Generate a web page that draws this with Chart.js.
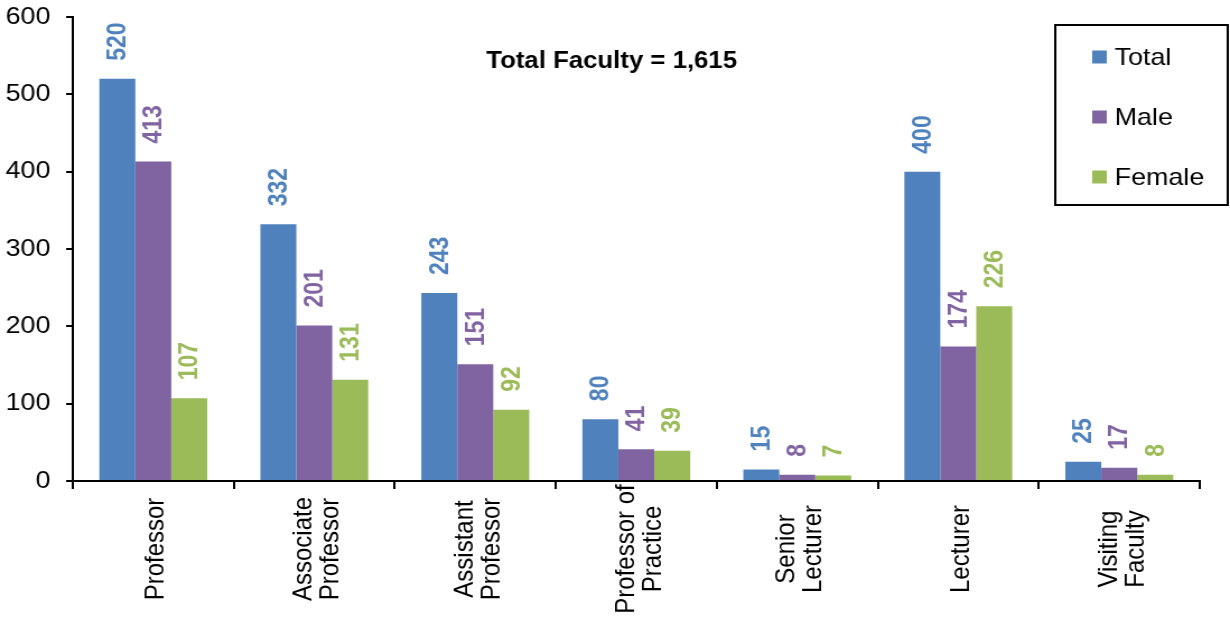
<!DOCTYPE html>
<html>
<head>
<meta charset="utf-8">
<title>Faculty by rank</title>
<script src="https://cdn.jsdelivr.net/npm/chart.js@4.4.1/dist/chart.umd.min.js"></script>
<style>
  html, body { margin: 0; padding: 0; background: #ffffff; }
</style>
</head>
<body>
<!-- the reference is stretched ~1.12x horizontally, so the canvas is drawn narrower and scaled up -->
<canvas id="facultyChart" width="1098" height="625" style="display:block;width:1230px;height:625px"></canvas>
<script>
const categories = [
  ["Professor"],
  ["Associate", "Professor"],
  ["Assistant", "Professor"],
  ["Professor of", "Practice"],
  ["Senior", "Lecturer"],
  ["Lecturer"],
  ["Visiting", "Faculty"]
];
const seriesNames = ["Total", "Male", "Female"];
const totalValues = [520, 332, 243, 80, 15, 400, 25];
const maleValues = [413, 201, 151, 41, 8, 174, 17];
const femaleValues = [107, 131, 92, 39, 7, 226, 8];
const yTickValues = [0, 100, 200, 300, 400, 500, 600];
const chartTitle = "Total Faculty = 1,615";

const seriesColors = ["#4f81bd", "#8064a2", "#9bbb59"];
const fontFamily = "'Liberation Sans', Arial, sans-serif";

const valueLabelPlugin = {
  id: "valueLabels",
  afterDatasetsDraw(chart) {
    const ctx = chart.ctx;
    ctx.save();
    ctx.font = `bold 23px ${fontFamily}`;
    ctx.textAlign = "left";
    ctx.textBaseline = "middle";
    chart.data.datasets.forEach((dataset, di) => {
      const meta = chart.getDatasetMeta(di);
      ctx.fillStyle = dataset.backgroundColor;
      meta.data.forEach((bar, i) => {
        ctx.save();
        ctx.translate(bar.x, bar.y - 18);
        ctx.rotate(-Math.PI / 2);
        ctx.fillText(String(dataset.data[i]), 0, 1);
        ctx.restore();
      });
    });
    ctx.restore();
  }
};

const categoryLabelPlugin = {
  id: "categoryLabels",
  afterDraw(chart) {
    const ctx = chart.ctx;
    const xScale = chart.scales.x;
    const lineGap = 24;
    ctx.save();
    ctx.font = `24px ${fontFamily}`;
    ctx.fillStyle = "#000000";
    ctx.textAlign = "center";
    ctx.textBaseline = "alphabetic";
    chart.data.labels.forEach((lines, i) => {
      const cx = xScale.getPixelForTick(i);
      lines.forEach((line, j) => {
        ctx.save();
        ctx.translate(cx + (j - (lines.length - 1) / 2) * lineGap, 549);
        ctx.rotate(-Math.PI / 2);
        ctx.fillText(line, 0, 9.5);
        ctx.restore();
      });
    });
    ctx.restore();
  }
};

const titleAndLegendPlugin = {
  id: "titleAndLegend",
  afterDraw(chart) {
    const ctx = chart.ctx;
    ctx.save();

    ctx.font = `bold 23px ${fontFamily}`;
    ctx.fillStyle = "#000000";
    ctx.textAlign = "center";
    ctx.textBaseline = "alphabetic";
    ctx.fillText(chartTitle, 546, 68);

    // boxed legend in the top right corner
    ctx.lineWidth = 2;
    ctx.strokeStyle = "#000000";
    ctx.strokeRect(942, 25, 154, 180);
    ctx.font = `24px ${fontFamily}`;
    ctx.textAlign = "left";
    ctx.textBaseline = "middle";
    chart.data.datasets.forEach((dataset, i) => {
      const y = 57 + i * 60;
      ctx.fillStyle = dataset.backgroundColor;
      ctx.fillRect(975, y - 6.5, 13, 13);
      ctx.fillStyle = "#000000";
      ctx.fillText(dataset.label, 995, y + 1);
    });

    ctx.restore();
  }
};

const facultyChart = new Chart(document.getElementById("facultyChart"), {
  type: "bar",
  data: {
    labels: categories,
    datasets: [
      { label: seriesNames[0], data: totalValues, backgroundColor: seriesColors[0] },
      { label: seriesNames[1], data: maleValues, backgroundColor: seriesColors[1] },
      { label: seriesNames[2], data: femaleValues, backgroundColor: seriesColors[2] }
    ]
  },
  options: {
    responsive: false,
    animation: false,
    layout: {
      padding: { top: 17, right: 27, bottom: 0, left: 0 }
    },
    datasets: {
      bar: {
        barPercentage: 1,
        categoryPercentage: 0.67,
        borderWidth: 0
      }
    },
    plugins: {
      legend: { display: false },
      tooltip: { enabled: false }
    },
    scales: {
      x: {
        grid: {
          offset: true,
          drawOnChartArea: false,
          tickLength: 8,
          lineWidth: 2,
          color: "#000000"
        },
        border: { color: "#000000", width: 2 },
        ticks: { display: false },
        afterFit(scale) {
          scale.height = 144;
        }
      },
      y: {
        min: 0,
        max: 600,
        afterBuildTicks(scale) {
          scale.ticks = yTickValues.map((value) => ({ value }));
        },
        grid: {
          drawOnChartArea: false,
          tickLength: 6,
          lineWidth: 2,
          color: "#000000"
        },
        border: { color: "#000000", width: 2 },
        ticks: {
          padding: 14,
          color: "#000000",
          font: { family: fontFamily, size: 24 }
        },
        afterFit(scale) {
          scale.width = 65;
          scale.paddingTop = 0;
          scale.paddingBottom = 0;
        }
      }
    }
  },
  plugins: [valueLabelPlugin, categoryLabelPlugin, titleAndLegendPlugin]
});
</script>
</body>
</html>
